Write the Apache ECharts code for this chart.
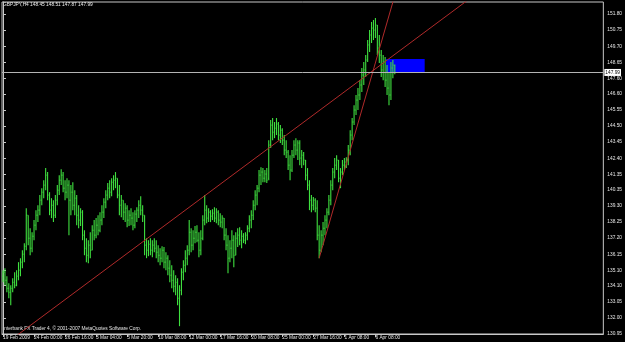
<!DOCTYPE html>
<html><head><meta charset="utf-8">
<script src="https://cdn.jsdelivr.net/npm/echarts@6/dist/echarts.min.js"></script>
<style>html,body{margin:0;padding:0;background:#000}#c{width:625px;height:342px}</style>
</head><body><div id="c"></div>
<script>
const symbolTitle = 'GBPJPY,H4 148.45 148.51 147.87 147.99';
const copyright = 'Interbank FX Trader 4, \u00a9 2001-2007 MetaQuotes Software Corp.';
const xTickLabels = ['19 Feb 2009','24 Feb 00:00','26 Feb 16:00','3 Mar 04:00','5 Mar 20:00','10 Mar 08:00','12 Mar 00:00','17 Mar 16:00','20 Mar 08:00','25 Mar 00:00','27 Mar 16:00','1 Apr 08:00','6 Apr 08:00'];
const barsPerLabel = 16;
const slotCount = 310;
const yTicks = [151.80,150.75,149.70,148.65,147.60,146.60,145.55,144.50,143.45,142.40,141.35,140.35,139.30,138.25,137.20,136.15,135.10,134.10,133.05,132.00,130.95];
const yMin = 130.95, yMax = 152.58;
const lastPrice = 147.99;
// [open, close, low, high]
const ohlc = [
[134.72,134.98,134.32,135.11],[134.98,134.45,134.13,135.24],[134.45,133.93,133.67,134.72],[133.93,133.67,133.28,134.26],
[133.67,133.93,132.82,134.13],[133.93,134.32,133.67,134.58],[134.32,134.13,133.93,134.98],[134.13,134.72,134.06,135.11],
[134.72,135.11,134.45,135.63],[135.11,135.63,134.72,135.89],[135.63,136.15,135.24,136.41],[136.15,136.67,135.63,136.87],
[136.67,138.69,136.41,139.15],[138.69,137.19,136.74,138.69],[137.19,136.54,136.08,137.84],[136.54,137.32,136.28,137.58],
[137.32,138.04,137.06,138.37],[138.04,138.69,137.71,139.02],[138.69,139.02,138.24,139.34],[139.02,139.67,138.69,140.00],
[139.67,140.19,139.34,140.45],[140.19,140.65,139.80,140.97],[140.65,141.30,140.32,141.76],[141.30,140.00,139.67,141.50],
[140.00,139.02,138.69,140.19],[139.02,139.34,138.50,139.80],[139.34,138.69,138.24,139.67],[138.69,139.67,138.50,140.00],
[139.67,140.32,139.34,140.65],[140.32,140.97,140.00,141.30],[140.97,141.30,140.65,141.69],[141.30,140.45,140.19,141.50],
[140.45,140.19,139.67,140.97],[140.19,140.65,139.80,141.10],[140.65,139.67,137.39,140.97],[139.67,140.19,138.69,140.65],
[140.19,139.34,139.02,140.84],[139.34,139.80,138.69,140.32],[139.80,138.69,138.04,140.00],[138.69,138.37,137.84,139.34],
[138.37,138.89,137.98,139.15],[138.89,137.39,137.06,139.02],[137.39,136.54,136.08,137.71],[136.54,136.08,135.63,137.19],
[136.08,136.74,135.56,137.06],[136.74,136.41,135.89,137.58],[136.41,137.71,136.41,138.04],[137.71,137.39,137.06,138.37],
[137.39,138.04,137.19,138.50],[138.04,137.71,137.39,138.69],[137.71,138.37,137.58,138.89],[138.37,138.89,138.04,139.34],
[138.89,139.54,138.50,139.80],[139.54,140.00,139.15,140.32],[140.00,140.45,139.67,140.78],[140.45,140.19,139.80,140.97],
[140.19,140.84,139.93,141.10],[140.84,140.97,140.32,141.30],[140.97,141.10,140.45,141.50],[141.10,140.00,139.80,141.10],
[140.00,139.34,138.69,140.65],[139.34,139.67,138.56,140.00],[139.67,138.89,138.37,139.67],[138.89,139.15,138.24,139.47],
[139.15,138.37,137.91,139.34],[138.37,138.69,137.98,139.02],[138.69,138.50,138.04,139.15],[138.50,138.04,137.71,138.89],
[138.04,138.76,137.84,139.02],[138.76,139.02,138.24,139.21],[139.02,139.34,138.50,139.67],[139.34,139.02,138.69,139.93],
[139.02,138.69,138.24,139.34],[138.69,136.74,136.08,138.69],[136.74,136.41,135.89,137.19],[136.41,136.80,136.02,137.06],
[136.80,136.41,136.08,137.19],[136.41,136.74,135.95,137.06],[136.74,136.54,136.28,137.19],[136.54,136.28,135.89,137.06],
[136.28,136.08,135.63,136.74],[136.08,135.89,135.43,136.54],[135.89,136.41,135.63,136.67],[136.41,135.63,135.24,136.61],
[135.63,135.89,135.11,136.28],[135.89,135.24,134.78,136.08],[135.24,134.78,134.32,135.76],[134.78,134.45,133.93,135.43],
[134.45,134.06,133.67,135.11],[134.06,134.32,133.48,134.78],[134.32,133.28,132.82,134.58],[133.28,133.80,131.46,134.13],
[133.80,134.98,133.48,135.24],[134.98,135.43,134.45,135.76],[135.43,135.89,134.98,136.41],[135.89,136.41,135.43,136.74],
[136.41,137.58,136.08,138.37],[137.58,136.74,136.28,137.84],[136.74,137.19,136.41,137.71],[137.19,137.58,136.87,137.98],
[137.58,137.06,136.93,138.04],[137.06,136.41,135.95,137.58],[136.41,137.19,136.08,137.71],[137.19,138.37,137.06,138.69],
[138.37,139.02,138.04,140.00],[139.02,138.50,138.17,139.34],[138.50,138.89,138.24,139.15],[138.89,138.63,138.24,139.02],
[138.63,138.82,138.37,139.08],[138.82,138.50,138.24,139.21],[138.50,138.89,138.17,139.15],[138.89,138.37,138.04,139.02],
[138.37,138.24,137.91,138.82],[138.24,138.50,137.84,138.69],[138.50,137.39,137.06,138.50],[137.39,136.74,136.41,137.84],
[136.74,135.89,134.91,137.39],[135.89,136.54,135.63,137.06],[136.54,137.06,135.89,137.71],[137.06,136.08,135.30,137.39],
[136.08,137.19,136.08,137.58],[137.19,137.39,136.61,137.84],[137.39,137.06,136.74,137.91],[137.06,137.32,136.54,137.71],
[137.32,137.06,136.87,137.52],[137.06,137.39,136.80,137.58],[137.39,137.84,137.06,138.04],[137.84,138.37,137.58,138.69],
[138.37,138.69,137.84,139.02],[138.69,139.34,138.37,139.67],[139.34,140.00,139.02,140.32],[140.00,140.45,139.34,140.65],
[140.45,141.30,140.19,141.63],[141.30,141.50,140.65,141.82],[141.50,141.10,140.84,141.76],[141.10,141.37,140.84,141.63],
[141.37,140.97,140.78,141.76],[141.10,143.26,140.97,143.58],[143.26,144.56,143.06,144.89],[144.56,144.10,143.58,145.02],
[144.10,144.36,143.71,144.76],[144.36,144.63,143.91,145.02],[144.63,143.91,143.58,144.76],[143.91,144.23,143.39,144.56],
[144.23,143.58,143.26,144.36],[143.58,142.93,142.60,143.91],[142.93,142.80,142.41,143.58],[142.80,141.95,141.63,142.93],
[141.95,141.63,140.97,142.60],[141.63,142.60,141.50,142.93],[142.60,143.26,142.41,143.58],[143.26,142.93,142.60,143.71],
[142.93,143.39,142.28,143.58],[143.39,142.41,141.95,143.58],[142.41,142.60,141.76,142.93],[142.60,142.28,141.95,142.80],
[142.28,141.30,140.97,142.28],[141.30,140.65,140.32,141.76],[140.65,139.67,139.02,140.97],[139.67,139.34,138.89,140.00],
[139.34,139.67,139.02,139.87],[139.67,139.15,138.89,139.80],[139.15,137.39,137.06,139.67],[137.39,136.41,135.89,138.04],
[136.41,137.39,136.28,137.71],[137.39,137.84,136.74,138.24],[137.84,138.37,137.39,138.69],[138.37,138.89,137.84,139.15],
[138.89,139.67,138.69,140.00],[139.67,140.65,139.34,140.97],[140.65,141.50,140.32,141.76],[141.50,141.95,141.10,142.41],
[141.95,142.28,141.63,142.60],[142.28,141.10,140.84,142.28],[141.10,141.50,140.45,141.76],[141.50,141.95,141.30,142.28],
[141.95,142.15,141.63,142.41],[142.15,142.28,141.76,142.47],[142.28,142.93,141.95,143.26],[142.93,143.91,142.60,144.23],
[143.91,144.76,143.58,145.02],[144.76,145.54,144.56,145.86],[145.54,146.19,145.21,146.52],[146.19,146.52,145.54,146.97],
[146.52,147.17,146.19,147.49],[147.17,147.82,146.71,148.28],[147.82,148.15,147.17,148.67],[148.15,148.80,147.69,149.12],
[148.80,149.78,148.67,150.10],[149.78,150.43,149.32,150.75],[150.43,150.88,149.91,151.28],[150.88,150.75,150.10,151.41],
[150.75,151.08,150.23,151.54],[151.08,149.58,149.12,151.08],[149.58,149.12,148.60,150.43],[149.12,148.15,147.69,149.45],
[148.15,148.67,147.49,149.12],[148.67,147.49,147.04,148.99],[147.49,146.97,146.52,148.47],[146.97,146.52,145.86,148.02],
[146.52,148.28,146.19,148.67],[148.28,148.47,147.62,148.80],[148.45,147.99,147.87,148.51]
];
// trend lines: [bar index, price]
const trendA = [[-1,130.09],[260,154.62]];
const trendB = [[163,135.89],[206,154.77]];
// blue box: [fromBar, toBar, lowPrice, highPrice]
const boxRange = [197.5, 217.4, 147.99, 148.86];

const categories = Array.from({length: slotCount}, (_, i) => String(i));
const font = 'Liberation Sans';
const showTick = (i) => i % barsPerLabel === 0 && (i / barsPerLabel) < xTickLabels.length;
const barColor = '#3fe03f';

const chart = echarts.init(document.getElementById('c'), null, {renderer: 'canvas'});
chart.setOption({
  backgroundColor: '#000',
  animation: false,
  grid: {left: 1, right: 18, top: 2, bottom: 8, show: true, borderColor: '#c8c8c8', borderWidth: 1},
  xAxis: [{
    type: 'category', data: categories, boundaryGap: true,
    axisLine: {show: true, lineStyle: {color: '#c8c8c8', width: 1}},
    axisTick: {show: true, interval: showTick, alignWithLabel: true, length: 3, lineStyle: {color: '#c8c8c8'}},
    axisLabel: {interval: showTick, formatter: (v, i) => showTick(i) ? xTickLabels[i / barsPerLabel] : '',
      align: 'left', verticalAlign: 'top', fontSize: 4.8, color: '#e6e6e6', margin: 1, fontFamily: font},
    splitLine: {show: false}
  }, {
    type: 'value', min: -0.5, max: slotCount - 0.5, show: false, splitLine: {show: false}
  }],
  yAxis: {
    type: 'value', position: 'right', min: yMin, max: yMax, scale: true,
    axisLine: {show: true, lineStyle: {color: '#c8c8c8', width: 1}},
    axisTick: {show: true, customValues: yTicks, length: 3, inside: false, lineStyle: {color: '#c8c8c8'}},
    axisLabel: {customValues: yTicks, formatter: (v) => v.toFixed(2), fontSize: 4.8, color: '#e6e6e6', margin: 4, fontFamily: font},
    splitLine: {show: false}
  },
  series: [{
    type: 'custom', xAxisIndex: 0,
    data: ohlc.map((d, i) => [i, d[0], d[1], d[2], d[3]]),
    encode: {x: 0, y: [1, 2, 3, 4]},
    renderItem: function (params, api) {
      const i = api.value(0);
      const pO = api.coord([i, api.value(1)]);
      const pC = api.coord([i, api.value(2)]);
      const pL = api.coord([i, api.value(3)]);
      const pH = api.coord([i, api.value(4)]);
      const st = {stroke: barColor, lineWidth: 1.1};
      const tk = {stroke: barColor, lineWidth: 0.8};
      return {type: 'group', children: [
        {type: 'line', shape: {x1: pL[0], y1: pL[1], x2: pH[0], y2: pH[1]}, style: st},
        {type: 'line', shape: {x1: pO[0] - 0.8, y1: pO[1], x2: pO[0], y2: pO[1]}, style: tk},
        {type: 'line', shape: {x1: pC[0], y1: pC[1], x2: pC[0] + 0.8, y2: pC[1]}, style: tk}
      ]};
    }
  }, {
    type: 'line', xAxisIndex: 1, data: trendA, symbol: 'none', clip: true,
    lineStyle: {color: '#b02a2a', width: 1},
    markLine: {silent: true, symbol: 'none', data: [{yAxis: lastPrice}],
      lineStyle: {color: '#b4b4b4', width: 1, type: 'solid'},
      label: {show: true, position: 'end', formatter: lastPrice.toFixed(2), backgroundColor: '#ffffff', color: '#000',
        fontSize: 4.8, fontFamily: font, padding: [1, 1], distance: 1}},
    markArea: {silent: true, itemStyle: {color: '#0000ff', opacity: 1},
      data: [[{coord: [boxRange[0], boxRange[3]]}, {coord: [boxRange[1], boxRange[2]]}]]}
  }, {
    type: 'line', xAxisIndex: 1, data: trendB, symbol: 'none', clip: true,
    lineStyle: {color: '#b02a2a', width: 1}
  }],
  graphic: [
    {type: 'text', left: 3, top: 2, style: {text: symbolTitle, fill: '#f0f0f0', font: '4.8px ' + font}},
    {type: 'text', left: 3, top: 326, style: {text: copyright, fill: '#e6e6e6', font: '4.8px ' + font}}
  ]
});
</script></body></html>
